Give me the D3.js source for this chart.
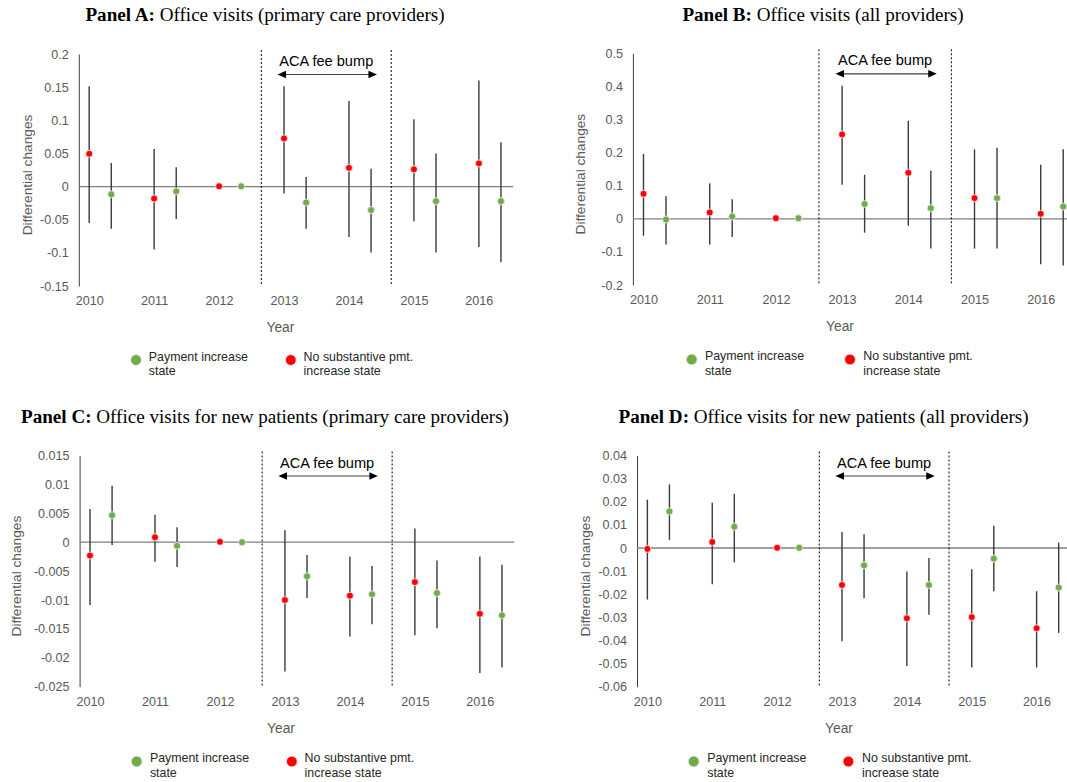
<!DOCTYPE html>
<html>
<head>
<meta charset="utf-8">
<script src="https://cdn.jsdelivr.net/npm/d3@7"></script>
<style>
  body { margin: 0; background: #fff; }
  svg { display: block; }
</style>
</head>
<body>
<div id="chart"></div>
<script>
const years = [2010, 2011, 2012, 2013, 2014, 2015, 2016]
const payOffset = 0.34
const feeBumpBounds = [2012.65, 2014.65]
const arrowSpan = [2012.9, 2014.43]

// Panel A: office visits, primary care
const aNoEst = [0.0495, -0.018, 0.0005, 0.0727, 0.0283, 0.026, 0.035]
const aNoHi = [0.1515, 0.0566, null, 0.1515, 0.129, 0.1015, 0.16]
const aNoLo = [-0.055, -0.095, null, -0.0106, -0.076, -0.0525, -0.091]
const aPayEst = [-0.0116, -0.0072, 0.0005, -0.024, -0.0354, -0.022, -0.022]
const aPayHi = [0.0355, 0.029, null, 0.0146, 0.027, 0.05, 0.067]
const aPayLo = [-0.0636, -0.049, null, -0.0636, -0.0995, -0.0995, -0.114]
const aTicks = [-0.15, -0.1, -0.05, 0, 0.05, 0.1, 0.15, 0.2]

// Panel B: office visits, all providers
const bNoEst = [0.0755, 0.019, 0.002, 0.255, 0.139, 0.0625, 0.015]
const bNoHi = [0.196, 0.107, null, 0.402, 0.296, 0.21, 0.163]
const bNoLo = [-0.051, -0.078, null, 0.103, -0.021, -0.09, -0.137]
const bPayEst = [-0.002, 0.007, 0.002, 0.045, 0.032, 0.0625, 0.037]
const bPayHi = [0.068, 0.059, null, 0.133, 0.145, 0.2145, 0.21]
const bPayLo = [-0.078, -0.055, null, -0.042, -0.09, -0.09, -0.141]
const bTicks = [-0.2, -0.1, 0, 0.1, 0.2, 0.3, 0.4, 0.5]

// Panel C: new patients, primary care
const cNoEst = [-0.0023, 0.00086, 0.00006, -0.01, -0.00925, -0.0069, -0.0124]
const cNoHi = [0.00575, 0.00477, null, 0.00207, -0.00247, 0.00236, -0.00247]
const cNoLo = [-0.01086, -0.0034, null, -0.02236, -0.0163, -0.0161, -0.02264]
const cPayEst = [0.00466, -0.00063, 0, -0.0059, -0.009, -0.0088, -0.01264]
const cPayHi = [0.00977, 0.00259, null, -0.0022, -0.0041, -0.00316, -0.0039]
const cPayLo = [-0.0005, -0.0043, null, -0.00966, -0.0142, -0.0149, -0.02167]
const cTicks = [-0.025, -0.02, -0.015, -0.01, -0.005, 0, 0.005, 0.01, 0.015]

// Panel D: new patients, all providers
const dNoEst = [-0.0004, 0.0026, 0.0001, -0.016, -0.0304, -0.0299, -0.0347]
const dNoHi = [0.0209, 0.0196, null, 0.0069, -0.0102, -0.0092, -0.0187]
const dNoLo = [-0.0223, -0.0157, null, -0.0403, -0.0511, -0.0517, -0.0517]
const dPayEst = [0.0158, 0.0092, 0.0001, -0.0075, -0.016, -0.0046, -0.0171]
const dPayHi = [0.0275, 0.0234, null, 0.0059, -0.0043, 0.0096, 0.0023]
const dPayLo = [0.0035, -0.0062, null, -0.0217, -0.0289, -0.0187, -0.0368]
const dTicks = [-0.06, -0.05, -0.04, -0.03, -0.02, -0.01, 0, 0.01, 0.02, 0.03, 0.04]

const legendLabels = [["Payment increase", "state"], ["No substantive pmt.", "increase state"]]

const SANS = "'Liberation Sans', Arial, sans-serif"
const SERIF = "'Liberation Serif', 'Times New Roman', serif"
const GREEN = "#70ad47"
const RED = "#ff0000"

const svg = d3.select("#chart")
    .append("svg")
    .attr("width", 1067)
    .attr("height", 782)

function series(est, lo, hi, off) {
    return years.map((y, i) => ({x: y + off, v: est[i], lo: lo[i], hi: hi[i]}))
}

function drawPanel(p) {
    const g = svg.append("g")

    const x = d3.scaleLinear()
        .domain([2009.84, 2016.53])
        .range([p.left, p.right])
    const y = d3.scaleLinear()
        .domain(d3.extent(p.ticks))
        .range([p.bottom, p.top])

    // title
    const t = g.append("text")
        .attr("x", p.titleX)
        .attr("y", p.titleY)
        .attr("text-anchor", "middle")
        .attr("font-family", SERIF)
        .attr("font-size", 19.1)
        .attr("fill", "#000")
    t.append("tspan").attr("font-weight", "bold").text(p.label)
    t.append("tspan").text(" " + p.title)

    // y axis
    const yAxis = d3.axisLeft(y)
        .tickValues(p.ticks)
        .tickFormat(d => String(+d.toFixed(4)))
        .tickSize(0)
        .tickSizeOuter(0)
        .tickPadding(10)
    const ya = g.append("g")
        .attr("transform", `translate(${p.left},0)`)
        .call(yAxis)
    ya.select(".domain").attr("stroke", "#404040").attr("stroke-width", 1)
    ya.selectAll("text")
        .attr("font-family", SANS)
        .attr("font-size", 12.6)
        .attr("fill", "#595959")

    // x axis labels at the bottom
    const xAxis = d3.axisBottom(x)
        .tickValues(years)
        .tickFormat(d3.format("d"))
        .tickSize(0)
        .tickPadding(10)
    const xa = g.append("g")
        .attr("transform", `translate(0,${p.bottom})`)
        .call(xAxis)
    xa.select(".domain").remove()
    xa.selectAll("text")
        .attr("font-family", SANS)
        .attr("font-size", 12.6)
        .attr("fill", "#595959")

    // zero line
    g.append("line")
        .attr("x1", p.left).attr("x2", p.right)
        .attr("y1", y(0)).attr("y2", y(0))
        .attr("stroke", "#7f7f7f")
        .attr("stroke-width", 1.3)

    // axis titles
    g.append("text")
        .attr("transform", `translate(${p.yLabelX},${(p.top + p.bottom) / 2 + 5}) rotate(-90)`)
        .attr("text-anchor", "middle")
        .attr("dominant-baseline", "central")
        .attr("font-family", SANS)
        .attr("font-size", 13.7)
        .attr("fill", "#595959")
        .text("Differential changes")
    g.append("text")
        .attr("x", p.yearX)
        .attr("y", p.bottom + 46)
        .attr("text-anchor", "middle")
        .attr("font-family", SANS)
        .attr("font-size", 13.8)
        .attr("fill", "#595959")
        .text("Year")

    // fee bump window
    g.selectAll(".bound")
        .data(feeBumpBounds)
        .join("line")
        .attr("class", "bound")
        .attr("x1", d => x(d)).attr("x2", d => x(d))
        .attr("y1", p.top - 4).attr("y2", p.bottom - 1)
        .attr("stroke", "#000")
        .attr("stroke-width", 1)
        .attr("stroke-dasharray", "2,2")

    const ay = p.top + 20.5
    g.append("line")
        .attr("x1", x(arrowSpan[0]) + 6).attr("x2", x(arrowSpan[1]) - 6)
        .attr("y1", ay).attr("y2", ay)
        .attr("stroke", "#404040")
        .attr("stroke-width", 1.2)
    g.selectAll(".head")
        .data([[arrowSpan[0], 1], [arrowSpan[1], -1]])
        .join("path")
        .attr("class", "head")
        .attr("d", d => {
            const hx = x(d[0])
            return `M${hx},${ay}L${hx + d[1] * 8.5},${ay - 3.8}L${hx + d[1] * 8.5},${ay + 3.8}Z`
        })
        .attr("fill", "#000")
    g.append("text")
        .attr("x", (x(arrowSpan[0]) + x(arrowSpan[1])) / 2 - 1)
        .attr("y", p.top + 12)
        .attr("text-anchor", "middle")
        .attr("font-family", SANS)
        .attr("font-size", 14.6)
        .attr("fill", "#000")
        .text("ACA fee bump")

    // error bars and markers
    const sets = [
        {pts: series(p.noEst, p.noLo, p.noHi, 0), color: RED},
        {pts: series(p.payEst, p.payLo, p.payHi, payOffset), color: GREEN}
    ]
    sets.forEach(s => {
        g.append("g")
            .selectAll("line")
            .data(s.pts.filter(d => d.lo !== null))
            .join("line")
            .attr("x1", d => x(d.x)).attr("x2", d => x(d.x))
            .attr("y1", d => y(d.lo)).attr("y2", d => y(d.hi))
            .attr("stroke", "#3a3a3a")
            .attr("stroke-width", 1.4)
    })
    sets.forEach(s => {
        g.append("g")
            .selectAll("circle")
            .data(s.pts)
            .join("circle")
            .attr("cx", d => x(d.x))
            .attr("cy", d => y(d.v))
            .attr("r", 3.5)
            .attr("fill", s.color)
            .attr("stroke", "#e6e6e6")
            .attr("stroke-width", 0.9)
    })

    // legend
    const colors = [GREEN, RED]
    p.legend.forEach((lx, i) => {
        g.append("circle")
            .attr("cx", lx[0]).attr("cy", p.legendY)
            .attr("r", 5.4)
            .attr("fill", colors[i])
            .attr("stroke", "#e6e6e6")
            .attr("stroke-width", 0.9)
        const lt = g.append("text")
            .attr("font-family", SANS)
            .attr("font-size", 12.4)
            .attr("fill", "#262626")
        legendLabels[i].forEach((line, j) => {
            lt.append("tspan")
                .attr("x", lx[1])
                .attr("y", p.legendY + 0.7 + j * 14.5)
                .text(line)
        })
    })
}

drawPanel({
    label: "Panel A:", title: "Office visits (primary care providers)",
    left: 78.8, right: 513.3, top: 54, bottom: 286, ticks: aTicks,
    noEst: aNoEst, noLo: aNoLo, noHi: aNoHi, payEst: aPayEst, payLo: aPayLo, payHi: aPayHi,
    titleX: 265, titleY: 21, yLabelX: 27, yearX: 280.4,
    legendY: 360, legend: [[136, 148.8], [290.8, 303.6]]
})
drawPanel({
    label: "Panel B:", title: "Office visits (all providers)",
    left: 632.9, right: 1075.8, top: 53.3, bottom: 285, ticks: bTicks,
    noEst: bNoEst, noLo: bNoLo, noHi: bNoHi, payEst: bPayEst, payLo: bPayLo, payHi: bPayHi,
    titleX: 823, titleY: 21, yLabelX: 580.5, yearX: 840,
    legendY: 359.5, legend: [[691.7, 704.9], [850, 863.3]]
})
drawPanel({
    label: "Panel C:", title: "Office visits for new patients (primary care providers)",
    left: 79.6, right: 514.3, top: 455.5, bottom: 686.7, ticks: cTicks,
    noEst: cNoEst, noLo: cNoLo, noHi: cNoHi, payEst: cPayEst, payLo: cPayLo, payHi: cPayHi,
    titleX: 265, titleY: 423, yLabelX: 16.6, yearX: 281,
    legendY: 761.5, legend: [[136.7, 149.9], [291.8, 304.6]]
})
drawPanel({
    label: "Panel D:", title: "Office visits for new patients (all providers)",
    left: 637, right: 1071, top: 455.5, bottom: 686.7, ticks: dTicks,
    noEst: dNoEst, noLo: dNoLo, noHi: dNoHi, payEst: dPayEst, payLo: dPayLo, payHi: dPayHi,
    titleX: 823.5, titleY: 423, yLabelX: 585, yearX: 839,
    legendY: 761.5, legend: [[693.7, 707.2], [848.4, 862]]
})
</script>
</body>
</html>
